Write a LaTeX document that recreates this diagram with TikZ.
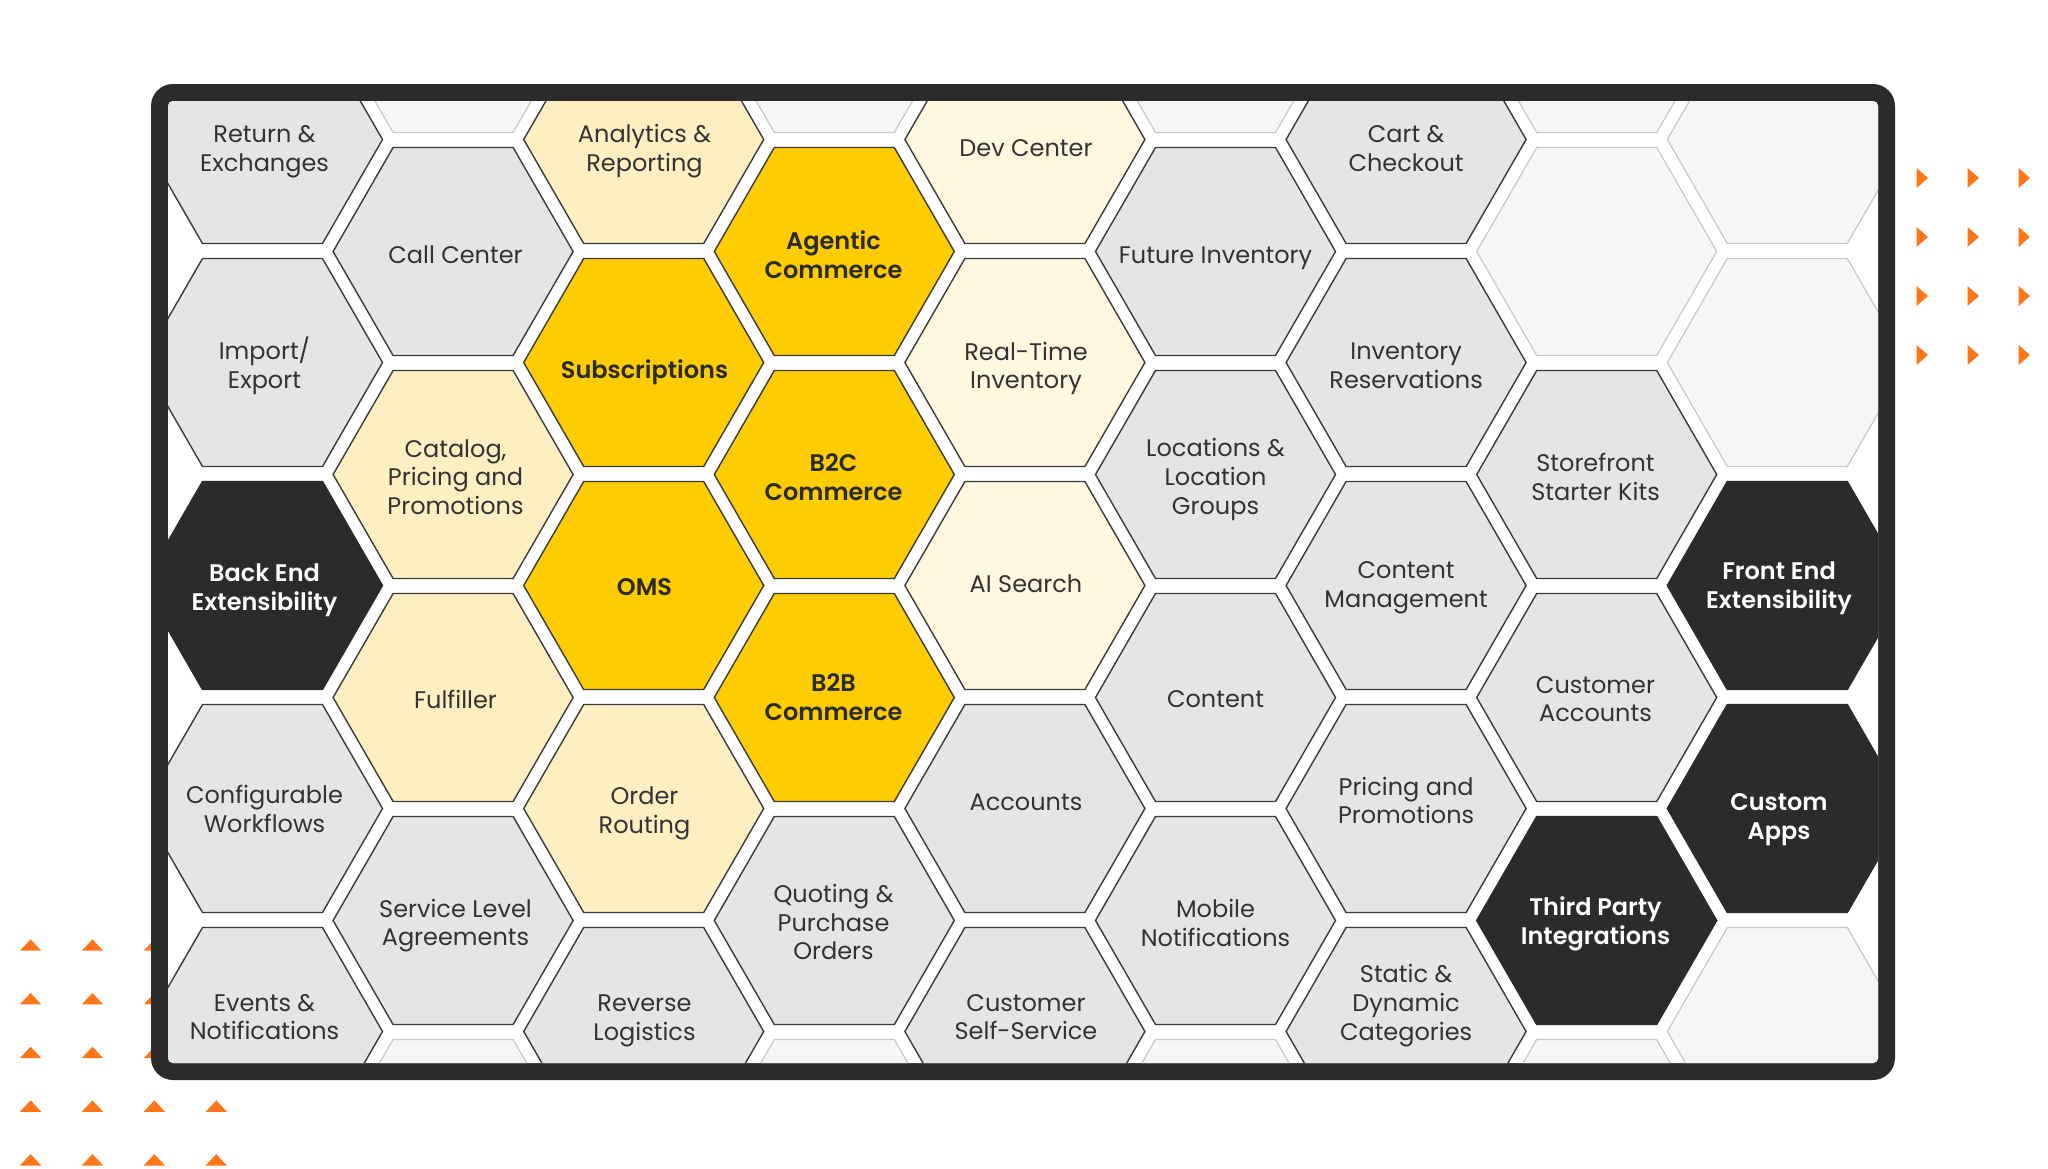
\documentclass[tikz,border=0pt]{standalone}
\usepackage{fontspec}
\setmainfont{Poppins}[BoldFont={Poppins SemiBold}]
\definecolor{cFrame}{HTML}{2B2B2B}
\definecolor{cLine}{HTML}{3A3A3A}
\definecolor{cGray}{HTML}{E4E5E7}
\definecolor{cYel}{HTML}{FDEFC2}
\definecolor{cCream}{HTML}{FFF7DE}
\definecolor{cGold}{HTML}{FDCC02}
\definecolor{cPale}{HTML}{F6F6F6}
\definecolor{cPaleLine}{HTML}{C8C8C8}
\definecolor{cText}{HTML}{333333}
\definecolor{cOrange}{HTML}{FF7619}
\newcommand\hexcell[3]{\path[#1] (#2,#3) ++(-120,0) -- ++(60,-104) -- ++(120,0) -- ++(60,104) -- ++(-60,104) -- ++(-120,0) -- cycle;}
\begin{document}
\begin{tikzpicture}[x=1pt,y=-1pt,
  hbase/.style={line width=1.4pt, draw=cLine, line join=miter},
  hgray/.style={hbase, fill=cGray},
  hyel/.style={hbase, fill=cYel},
  hcream/.style={hbase, fill=cCream},
  hgold/.style={hbase, fill=cGold},
  hblack/.style={hbase, fill=cFrame, draw=cFrame},
  hpale/.style={line width=1.2pt, draw=cPaleLine, fill=cPale},
  lbl/.style={align=center, inner sep=0pt, text=cText, font=\fontsize{24}{28.7}\selectfont},
  lblgold/.style={lbl, text=cFrame, font=\fontsize{24}{28.7}\selectfont\bfseries},
  lbldark/.style={lbl, text=white, font=\fontsize{24}{28.7}\selectfont\bfseries},
  deco/.style={fill=cOrange}
]
\useasboundingbox (0,0) rectangle (2048,1168);
\fill[white] (0,0) rectangle (2048,1168);
% orange decorations bottom-left (behind frame)
\foreach \i in {0,...,3}{\foreach \j in {0,...,4}{
  \path[deco] ({19.9+61.9*\i},{950.7+53.7*\j}) -- ++(21.4,0) -- ++(-10.7,-11.4) -- cycle;}}
% orange decorations right
\foreach \i in {0,1,2}{\foreach \j in {0,...,3}{
  \path[deco] ({1916.5+51*\i},{168+59*\j}) -- ++(11.5,10) -- ++(-11.5,10) -- cycle;}}
% frame
\fill[cFrame, rounded corners=22pt] (151,84) rectangle (1895,1080);
\fill[white, rounded corners=5pt] (168,101) rectangle (1878,1063);
\begin{scope}
\clip[rounded corners=5pt] (168,101) rectangle (1878,1063);
% column 1
\hexcell{hgray}{262.5}{139.5}
\hexcell{hgray}{262.5}{362.5}
\hexcell{hblack}{262.5}{585.5}
\hexcell{hgray}{262.5}{808.5}
\hexcell{hgray}{262.5}{1031.5}
% column 2
\hexcell{hpale}{453.1}{28.5}
\hexcell{hgray}{453.1}{251.5}
\hexcell{hyel}{453.1}{474.5}
\hexcell{hyel}{453.1}{697.5}
\hexcell{hgray}{453.1}{920.5}
\hexcell{hpale}{453.1}{1143.5}
% column 3
\hexcell{hyel}{643.7}{139.5}
\hexcell{hgold}{643.7}{362.5}
\hexcell{hgold}{643.7}{585.5}
\hexcell{hyel}{643.7}{808.5}
\hexcell{hgray}{643.7}{1031.5}
% column 4
\hexcell{hpale}{834.3}{28.5}
\hexcell{hgold}{834.3}{251.5}
\hexcell{hgold}{834.3}{474.5}
\hexcell{hgold}{834.3}{697.5}
\hexcell{hgray}{834.3}{920.5}
\hexcell{hpale}{834.3}{1143.5}
% column 5
\hexcell{hcream}{1024.9}{139.5}
\hexcell{hcream}{1024.9}{362.5}
\hexcell{hcream}{1024.9}{585.5}
\hexcell{hgray}{1024.9}{808.5}
\hexcell{hgray}{1024.9}{1031.5}
% column 6
\hexcell{hpale}{1215.5}{28.5}
\hexcell{hgray}{1215.5}{251.5}
\hexcell{hgray}{1215.5}{474.5}
\hexcell{hgray}{1215.5}{697.5}
\hexcell{hgray}{1215.5}{920.5}
\hexcell{hpale}{1215.5}{1143.5}
% column 7
\hexcell{hgray}{1406.1}{139.5}
\hexcell{hgray}{1406.1}{362.5}
\hexcell{hgray}{1406.1}{585.5}
\hexcell{hgray}{1406.1}{808.5}
\hexcell{hgray}{1406.1}{1031.5}
% column 8
\hexcell{hpale}{1596.7}{28.5}
\hexcell{hpale}{1596.7}{251.5}
\hexcell{hgray}{1596.7}{474.5}
\hexcell{hgray}{1596.7}{697.5}
\hexcell{hblack}{1596.7}{920.5}
\hexcell{hpale}{1596.7}{1143.5}
% column 9
\hexcell{hpale}{1787.3}{139.5}
\hexcell{hpale}{1787.3}{362.5}
\hexcell{hblack}{1787.3}{585.5}
\hexcell{hblack}{1787.3}{808.5}
\hexcell{hpale}{1787.3}{1031.5}
\end{scope}
% labels column 1
\node[lbl] (retex) at (264.5,151.5) {Return \&\\Exchanges};
\node[lbl] (impex) at (264.5,365.5) {Import/\\Export};
\node[lbldark] (backend) at (264.5,590.5) {Back End\\Extensibility};
\node[lbl] (confwf) at (264.5,809) {Configurable\\Workflows};
\node[lbl] (events) at (264.5,1017) {Events \&\\Notifications};
% column 2
\node[lbl] (callc) at (455.5,254.5) {Call Center};
\node[lbl] (catalog) at (455.5,477) {Catalog,\\Pricing and\\Promotions};
\node[lbl] (fulfil) at (455.5,699) {Fulfiller};
\node[lbl] (sla) at (455.5,925.5) {Service Level\\Agreements};
% column 3
\node[lbl] (analyt) at (644.5,151) {Analytics \&\\Reporting};
\node[lblgold] (subs) at (644.5,372.5) {Subscriptions};
\node[lblgold] (oms) at (644.5,587) {OMS};
\node[lbl] (orderr) at (644.5,813) {Order\\Routing};
\node[lbl] (revlog) at (644.5,1021) {Reverse\\Logistics};
% column 4
\node[lblgold] (agentic) at (833.5,255) {Agentic\\Commerce};
\node[lblgold] (btoc) at (833.5,477) {B2C\\Commerce};
\node[lblgold] (btob) at (833.5,697.5) {B2B\\Commerce};
\node[lbl] (quoting) at (833.5,922) {Quoting \&\\Purchase\\Orders};
% column 5
\node[lbl] (devc) at (1026,148.5) {Dev Center};
\node[lbl] (rtinv) at (1026,368.5) {Real-Time\\Inventory};
\node[lbl] (aisearch) at (1026,584) {AI Search};
\node[lbl] (accts) at (1026,802) {Accounts};
\node[lbl] (custss) at (1026,1017) {Customer\\Self-Service};
% column 6
\node[lbl] (futinv) at (1215.5,258) {Future Inventory};
\node[lbl] (locs) at (1215.5,479.5) {Locations \&\\Location\\Groups};
\node[lbl] (content) at (1215.5,699) {Content};
\node[lbl] (mobile) at (1215.5,923) {Mobile\\Notifications};
% column 7
\node[lbl] (cart) at (1406.1,148.8) {Cart \&\\Checkout};
\node[lbl] (invres) at (1406.1,365.8) {Inventory\\Reservations};
\node[lbl] (contm) at (1406.1,588) {Content\\Management};
\node[lbl] (pricing) at (1406.1,800.6) {Pricing and\\Promotions};
\node[lbl] (static) at (1406.1,1005.6) {Static \&\\Dynamic\\Categories};
% column 8
\node[lbl] (store) at (1595.5,477) {Storefront\\Starter Kits};
\node[lbl] (custacc) at (1595.5,699) {Customer\\Accounts};
\node[lbldark] (thirdp) at (1595.5,923.8) {Third Party\\Integrations};
% column 9
\node[lbldark] (frontend) at (1779,588) {Front End\\Extensibility};
\node[lbldark] (capps) at (1779,820) {Custom\\Apps};
\end{tikzpicture}
\end{document}
